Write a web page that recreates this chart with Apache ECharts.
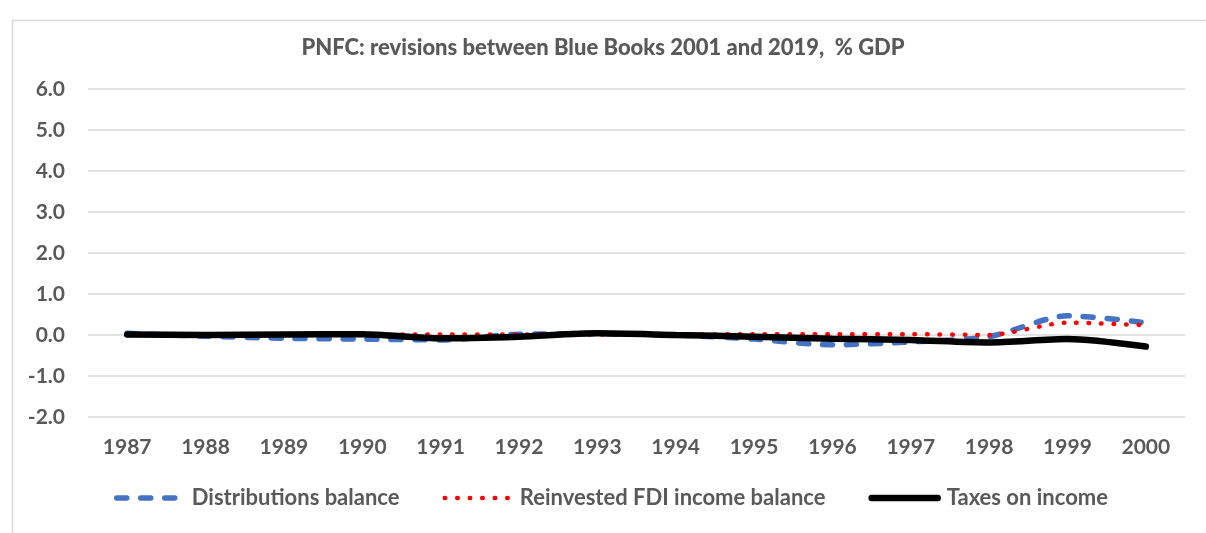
<!DOCTYPE html>
<html>
<head>
<meta charset="utf-8">
<script src="https://cdn.jsdelivr.net/npm/echarts@6/dist/echarts.min.js"></script>
<style>
  html, body { margin: 0; padding: 0; background: #fff; }
  #chart { width: 1206px; height: 533px; }
</style>
</head>
<body>
<div id="chart"></div>
<script>
// years on the category axis
var years = ['1987', '1988', '1989', '1990', '1991', '1992', '1993',
  '1994', '1995', '1996', '1997', '1998', '1999', '2000'];

// revisions, % GDP
var distributions = [0.04, -0.03, -0.08, -0.10, -0.12, 0.02, 0.03,
  0.00, -0.10, -0.24, -0.17, -0.04, 0.47, 0.30];
var reinvestedFdi = [0.00, 0.00, 0.00, 0.01, 0.01, 0.01, 0.01,
  0.01, 0.02, 0.02, 0.02, 0.00, 0.30, 0.24];
var taxesOnIncome = [0.01, 0.00, 0.01, 0.02, -0.08, -0.04, 0.04,
  0.00, -0.04, -0.09, -0.12, -0.18, -0.10, -0.28];

var legendNames = ['Distributions balance', 'Reinvested FDI income balance', 'Taxes on income'];

var font = 'Lato, "Open Sans", sans-serif';
var textGrey = '#595959';

var chart = echarts.init(document.getElementById('chart'));

var option = {
  backgroundColor: '#fff',
  animation: false,
  title: {
    text: 'PNFC: revisions between Blue Books 2001 and 2019,  % GDP',
    left: 'center',
    top: 32,
    textStyle: {
      color: textGrey,
      fontFamily: font,
      fontWeight: 900,
      fontSize: 22
    }
  },
  graphic: [
    {
      type: 'rect',
      left: 10,
      top: 18,
      shape: { width: 1220, height: 540 },
      style: { fill: 'none', stroke: '#d9d9d9', lineWidth: 1.5 },
      silent: true
    }
  ],
  legend: {
    data: legendNames,
    bottom: 19,
    left: 109,
    itemWidth: 66,
    itemHeight: 14,
    itemGap: 43,
    itemStyle: { opacity: 0 },
    lineStyle: { width: 'inherit' },
    textStyle: {
      color: textGrey,
      fontFamily: font,
      fontWeight: 'bold',
      fontSize: 22,
      padding: [0, 0, 0, 4]
    }
  },
  grid: {
    left: 88,
    right: 21,
    top: 89,
    bottom: 116
  },
  xAxis: {
    type: 'category',
    data: years,
    boundaryGap: true,
    axisLine: { show: false },
    axisTick: { show: false },
    axisLabel: {
      color: textGrey,
      fontFamily: font,
      fontWeight: 'bold',
      fontSize: 21,
      margin: 20
    }
  },
  yAxis: {
    type: 'value',
    min: -2,
    max: 6,
    interval: 1,
    axisLine: { show: false },
    axisTick: { show: false },
    axisLabel: {
      color: textGrey,
      fontFamily: font,
      fontWeight: 'bold',
      fontSize: 21,
      margin: 23,
      formatter: function (v) { return v.toFixed(1); }
    },
    splitLine: {
      lineStyle: { color: '#d9d9d9', width: 1.5 }
    }
  },
  series: [
    {
      name: legendNames[0],
      type: 'line',
      data: distributions,
      smooth: 0.25,
      symbol: 'none',
      z: 2,
      itemStyle: { color: '#4472C4' },
      lineStyle: {
        color: '#4472C4',
        width: 5.5,
        type: [10, 14],
        cap: 'round'
      }
    },
    {
      name: legendNames[1],
      type: 'line',
      data: reinvestedFdi,
      smooth: 0.25,
      symbol: 'none',
      z: 3,
      itemStyle: { color: '#FF0000' },
      lineStyle: {
        color: '#FF0000',
        width: 4.5,
        type: [0.5, 12],
        cap: 'round'
      }
    },
    {
      name: legendNames[2],
      type: 'line',
      data: taxesOnIncome,
      smooth: 0.25,
      symbol: 'none',
      z: 4,
      itemStyle: { color: '#000' },
      lineStyle: {
        color: '#000',
        width: 6.5,
        cap: 'round'
      }
    }
  ]
};

chart.setOption(option);
window.addEventListener('resize', function () {
  chart.resize();
});
</script>
</body>
</html>
